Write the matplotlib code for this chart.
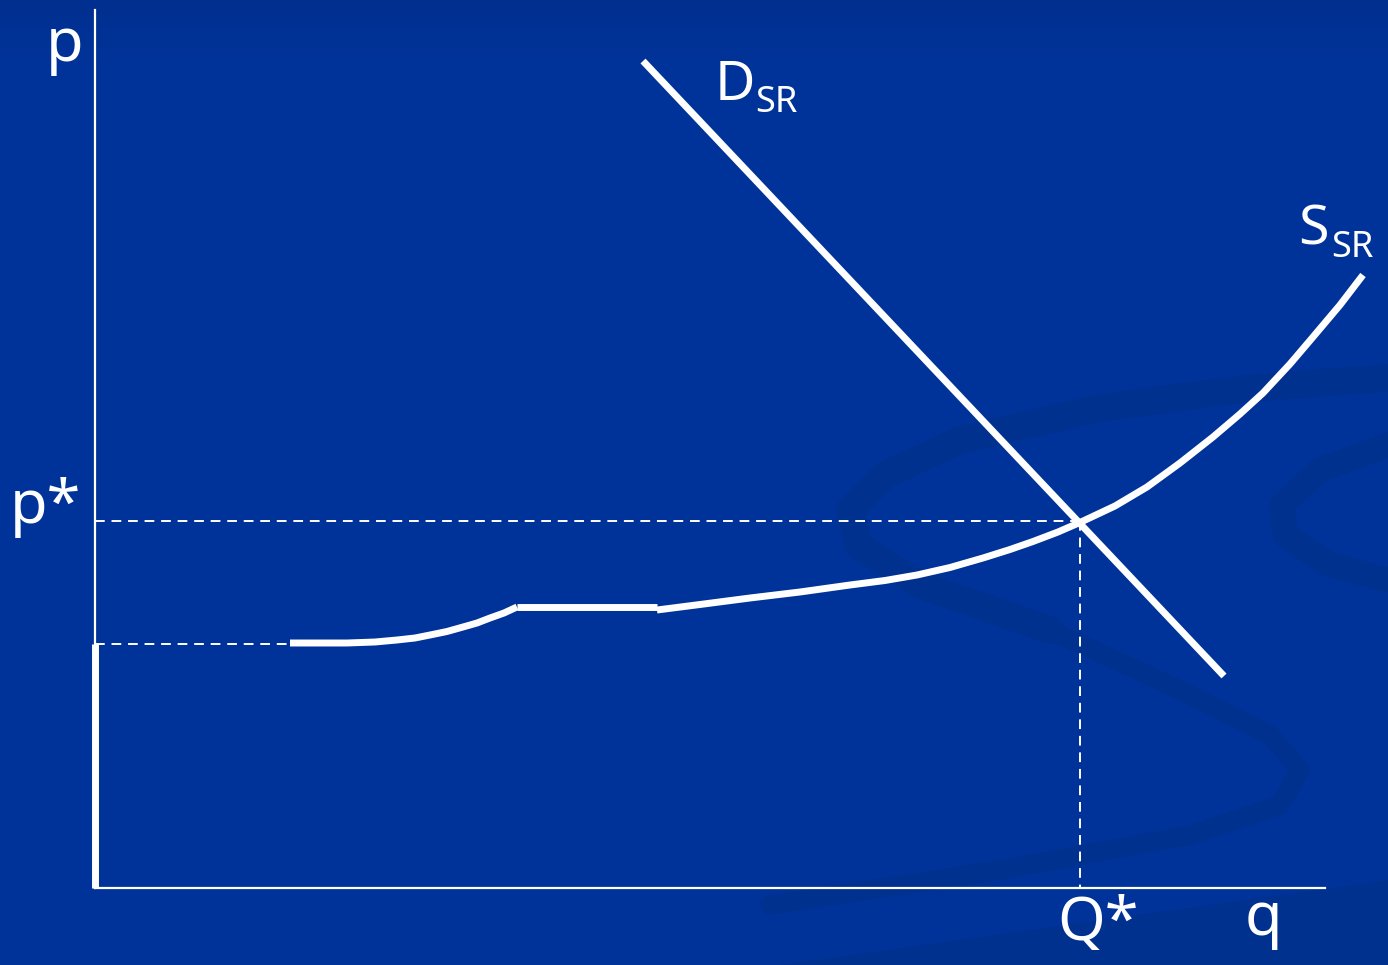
import matplotlib
matplotlib.use("Agg")
import matplotlib.pyplot as plt
import numpy as np
from matplotlib.colors import LinearSegmentedColormap

# ---- data (image-pixel units; origin of the economic axes at (95, 888)) ----
ORIGIN = (95, 888)
supply_seg1_x = [290, 320, 347, 375, 397, 415, 430, 447, 463, 477, 490, 504, 517]
supply_seg1_y = [643, 643, 643, 642, 640, 638, 635, 631.5, 627, 623, 618, 613, 607]
supply_seg2_x = [517, 657]
supply_seg2_y = [607, 607]
supply_seg3_x = [657, 700, 750, 800, 850, 885, 917, 950, 983, 1010, 1033, 1058, 1081,
                 1115, 1147, 1180, 1213, 1240, 1263, 1290, 1313, 1340, 1363]
supply_seg3_y = [610, 604.5, 598, 592, 585, 580.5, 575, 567.5, 558, 549.5, 541.5, 532, 522,
                 506, 487, 463, 437, 414, 393, 364, 337, 305, 275]
demand_x = [643, 1224]
demand_y = [61, 676]
p_star = 521
q_star = 1080
p_min = 644
labels = {"p": (65, 45), "p*": (45, 508), "Q*": (1098, 925), "q": (1263, 920)}

BG = "#003399"
SWIRL = "#00318f"

fig = plt.figure(figsize=(13.88, 9.65), dpi=100)
fig.patch.set_facecolor(BG)
ax = fig.add_axes([0, 0, 1, 1])
ax.set_xlim(0, 1388)
ax.set_ylim(965, 0)
ax.axis("off")
ax.set_facecolor(BG)

# subtle top gradient
grad = np.linspace(0, 1, 100).reshape(-1, 1)
cm = LinearSegmentedColormap.from_list("g", ["#002f8f", BG])
ax.imshow(grad, extent=[0, 1388, 60, 0], cmap=cm, aspect="auto", zorder=0)

# decorative swirl bands
swirl1_x = [1388, 1250, 1100, 960, 885, 850, 858, 920, 1050]
swirl1_y = [378, 388, 408, 440, 475, 510, 545, 585, 630]
ax.plot(swirl1_x, swirl1_y, color=SWIRL, lw=20, solid_capstyle="round",
        solid_joinstyle="round", zorder=1)
swirl1b_x = [1050, 1180, 1270, 1300, 1280, 1190, 1000, 770]
swirl1b_y = [630, 690, 735, 770, 805, 835, 870, 905]
ax.plot(swirl1b_x, swirl1b_y, color=SWIRL, lw=14, solid_capstyle="round",
        solid_joinstyle="round", zorder=1)
swirl2_x = [1388, 1320, 1282, 1285, 1330, 1388]
swirl2_y = [445, 470, 505, 535, 565, 580]
ax.plot(swirl2_x, swirl2_y, color=SWIRL, lw=18, solid_capstyle="round",
        solid_joinstyle="round", zorder=1)
ax.fill([780, 1388, 1388, 800], [965, 880, 965, 965], color=SWIRL, zorder=1, lw=0)

# axes
ax.plot([ORIGIN[0], ORIGIN[0]], [ORIGIN[1], 10], color="white", lw=1.6, zorder=3)
ax.plot([ORIGIN[0], 1325], [ORIGIN[1], ORIGIN[1]], color="white", lw=1.6, zorder=3)
ax.plot([ORIGIN[0], ORIGIN[0]], [p_min, ORIGIN[1]], color="white", lw=5,
        solid_capstyle="butt", zorder=4)

# dashed guides
dash = dict(color="white", lw=1.4, dashes=(5, 3.5), zorder=3)
ax.plot([ORIGIN[0], 290], [p_min, p_min], **dash)
ax.plot([ORIGIN[0], q_star], [p_star, p_star], **dash)
ax.plot([q_star, q_star], [p_star, ORIGIN[1]], **dash)

# curves
thick = dict(color="white", lw=5, solid_capstyle="butt", solid_joinstyle="round", zorder=5)
ax.plot(supply_seg1_x, supply_seg1_y, **thick)
ax.plot(supply_seg2_x, supply_seg2_y, **thick)
ax.plot(supply_seg3_x, supply_seg3_y, **thick)
ax.plot(demand_x, demand_y, **thick)

fam = ["Noto Sans", "DejaVu Sans"]
for t, (x, y) in labels.items():
    ax.text(x, y, t, color="white", fontsize=44, ha="center", va="center", family=fam)

ax.text(715, 85, "D", color="white", fontsize=40, ha="left", va="center", family=fam)
ax.text(755, 103, "SR", color="white", fontsize=26, ha="left", va="center", family=fam)
ax.text(1298, 230, "S", color="white", fontsize=40, ha="left", va="center", family=fam)
ax.text(1331, 248, "SR", color="white", fontsize=26, ha="left", va="center", family=fam)

fig.savefig("out.png", dpi=100, facecolor=BG)
